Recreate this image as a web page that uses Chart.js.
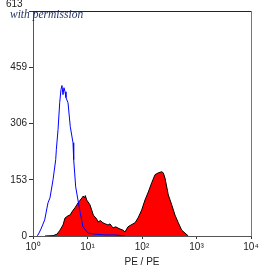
<!DOCTYPE html>
<html>
<head>
<meta charset="utf-8">
<script src="https://cdn.jsdelivr.net/npm/chart.js@4/dist/chart.umd.min.js"></script>
<style>
  html, body { margin: 0; padding: 0; background: #fff; }
  canvas { display: block; }
</style>
</head>
<body>
<canvas id="chart" width="267" height="275"></canvas>
<script>
// tick values
const xTicks = [1, 10, 100, 1000, 10000]
const xTickLabels = ['10\u2070', '10\u00b9', '10\u00b2', '10\u00b3', '10\u2074']
const yTicks = [0, 153, 306, 459, 613]

// blue (control) histogram, outline only
const blueX = [1.18, 1.24, 1.40, 1.64, 1.88, 2.05, 2.33, 2.61, 2.68, 2.88, 3.09, 3.26, 3.40, 3.55, 3.70, 3.87, 4.03, 4.39, 4.83, 5.42, 5.58, 6.07, 7.19, 8.26, 10.2, 13.7, 20.9, 31.8, 48.7]
const blueY = [1, 3, 19, 44, 90, 104, 153, 208, 235, 290, 363, 399, 410, 385, 404, 393, 377, 363, 298, 254, 208, 134, 71, 25, 8, 5, 3, 3, 0]

// red (stained) histogram, filled
const redX = [1.66, 2.33, 2.76, 3.13, 3.55, 3.87, 4.39, 4.77, 5.42, 5.90, 6.69, 7.93, 8.37, 8.81, 9.12, 9.67, 11.1, 12.8, 14.8, 15.6, 17.3, 19.2, 21.4, 23.8, 25.9, 29.4, 32.7, 39.5, 44.8, 48.7, 55.3, 62.8, 74.4, 84.5, 98.7, 113.5, 130.6, 150.7, 173.3, 199, 229.6, 246, 264, 304, 351, 403, 464, 535, 615, 707]
const redY = [0, 1, 5, 16, 30, 49, 55, 57, 70, 77, 90, 104, 109, 104, 110, 98, 85, 57, 46, 38, 42, 36, 33, 30, 33, 22, 25, 19, 16, 11, 25, 30, 36, 49, 71, 98, 120, 145, 167, 172, 175, 172, 158, 112, 85, 57, 36, 16, 8, 0]

const toPoints = (xs, ys) => xs.map((x, i) => ({ x: x, y: ys[i] }))

const framePlugin = {
  id: 'frame',
  afterDraw(chart) {
    const ctx = chart.ctx
    const a = chart.chartArea
    ctx.save()
    ctx.lineWidth = 1
    ctx.strokeStyle = '#222'
    ctx.beginPath()
    ctx.moveTo(a.left, a.top + 0.5)
    ctx.lineTo(a.right, a.top + 0.5)
    ctx.stroke()
    ctx.strokeStyle = '#777'
    ctx.beginPath()
    ctx.moveTo(a.right + 0.5, a.top)
    ctx.lineTo(a.right + 0.5, a.bottom)
    ctx.stroke()

    // top y label sits above its tick in the original
    const y = chart.scales.y
    ctx.fillStyle = '#222'
    ctx.font = '10px "Liberation Sans", Arial, sans-serif'
    ctx.textAlign = 'left'
    ctx.textBaseline = 'middle'
    ctx.fillText('613', 6, y.getPixelForValue(613) - 7)

    ctx.fillStyle = '#1f2f5f'
    ctx.font = 'italic 11.5px "Liberation Serif", "DejaVu Serif", serif'
    ctx.textBaseline = 'alphabetic'
    ctx.fillText('with permission', 10, 18)
    ctx.restore()
  }
}

new Chart(document.getElementById('chart'), {
  type: 'line',
  data: {
    datasets: [
      {
        data: toPoints(blueX, blueY),
        borderColor: '#0000ff',
        borderWidth: 1,
        fill: false,
        pointRadius: 0,
        tension: 0
      },
      {
        data: toPoints(redX, redY),
        borderColor: '#000',
        backgroundColor: '#ff0000',
        borderWidth: 1,
        fill: 'origin',
        pointRadius: 0,
        tension: 0
      }
    ]
  },
  options: {
    responsive: false,
    animation: false,
    layout: { padding: { top: 11, right: 16, left: 0, bottom: 0 } },
    plugins: {
      legend: { display: false },
      tooltip: { enabled: false }
    },
    scales: {
      x: {
        type: 'logarithmic',
        min: 1,
        max: 10000,
        afterBuildTicks: (scale) => {
          scale.ticks = xTicks.map(v => ({ value: v }))
        },
        afterFit: (scale) => { scale.height = 39 },
        ticks: {
          color: '#222',
          font: { family: '"Liberation Sans", Arial, sans-serif', size: 10 },
          padding: 2,
          maxRotation: 0,
          autoSkip: false,
          callback: (v) => {
            const i = xTicks.indexOf(v)
            return i >= 0 ? xTickLabels[i] : ''
          }
        },
        grid: { drawOnChartArea: false, drawTicks: true, tickLength: 3, color: '#333' },
        border: { display: true, color: '#555', width: 1 },
        title: {
          display: true,
          text: 'PE / PE',
          color: '#222',
          font: { family: '"Liberation Sans", Arial, sans-serif', size: 10 },
          padding: { top: 4, bottom: 7 }
        }
      },
      y: {
        type: 'linear',
        min: 0,
        max: 613,
        afterBuildTicks: (scale) => {
          scale.ticks = yTicks.map(v => ({ value: v }))
        },
        afterFit: (scale) => { scale.width = 33 },
        ticks: {
          color: '#222',
          font: { family: '"Liberation Sans", Arial, sans-serif', size: 10 },
          padding: 2,
          callback: (v) => v === 613 ? '' : String(v)
        },
        grid: { drawOnChartArea: false, drawTicks: true, tickLength: 4, color: '#333' },
        border: { display: true, color: '#555', width: 1 }
      }
    }
  },
  plugins: [framePlugin]
})
</script>
</body>
</html>
